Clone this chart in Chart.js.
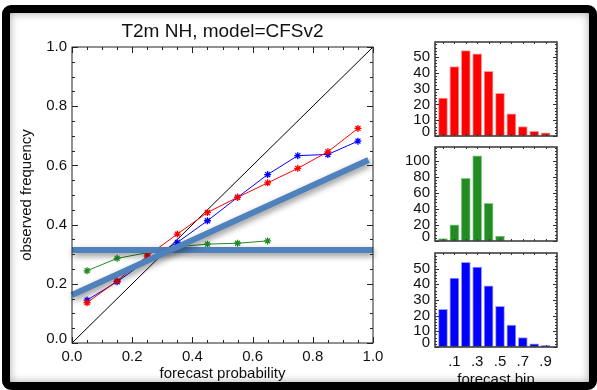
<!DOCTYPE html>
<html><head><meta charset="utf-8">
<script src="https://cdn.jsdelivr.net/npm/chart.js@4.4.0/dist/chart.umd.min.js"></script>
<style>
html,body{margin:0;padding:0;background:#fff;width:597px;height:390px;overflow:hidden;}
canvas{position:absolute;left:0;top:0;}
#frame{position:absolute;left:2px;top:5px;width:579px;height:369px;border:8px solid #000;border-radius:9px;box-shadow:inset 0 0 8px rgba(0,0,0,0.35);pointer-events:none;}
</style></head><body>
<canvas id="main" width="597" height="390"></canvas>
<canvas id="h1" width="597" height="390"></canvas>
<canvas id="h2" width="597" height="390"></canvas>
<canvas id="h3" width="597" height="390"></canvas>
<div id="frame"></div>
<script>
// ---- data ----
const probBins  = [0.05, 0.15, 0.25, 0.35, 0.45, 0.55, 0.65, 0.75, 0.85, 0.95];
const redObs    = [0.136, 0.210, 0.294, 0.368, 0.441, 0.492, 0.541, 0.590, 0.646, 0.725];
const blueObs   = [0.145, 0.207, 0.280, 0.340, 0.413, 0.492, 0.569, 0.633, 0.637, 0.682];
const greenBins = [0.05, 0.15, 0.25, 0.35, 0.45, 0.55, 0.65];
const greenObs  = [0.244, 0.286, 0.305, 0.325, 0.334, 0.337, 0.345];
const diagX = [0, 1];
const diagY = [0, 1];
const climX = [0, 1];
const climY = [0.314, 0.314];
const fitX  = [0, 0.985];
const fitY  = [0.162, 0.618];
const mainMajor = [0, 0.2, 0.4, 0.6, 0.8, 1.0];
const mainMinor = [0.05,0.1,0.15,0.25,0.3,0.35,0.45,0.5,0.55,0.65,0.7,0.75,0.85,0.9,0.95];

const histBins   = [0, 0.1, 0.2, 0.3, 0.4, 0.5, 0.6, 0.7, 0.8, 0.9];
const histRed    = [24, 44, 54, 52, 41, 27, 14, 6, 3, 2];
const histGreen  = [3, 20, 78, 106, 47, 6, 0, 0, 0, 0];
const histBlue   = [24, 44, 54, 51, 39, 26, 14, 6, 2, 1];
const histLabelTicks = [0.1, 0.3, 0.5, 0.7, 0.9];
const histTicksRed   = [0, 10, 20, 30, 40, 50];
const histTicksGreen = [0, 20, 40, 60, 80, 100];
const histTicksBlue  = [0, 10, 20, 30, 40, 50];
const histMaxRed = 59.5, histMaxGreen = 117, histMaxBlue = 60;

// ---- helpers ----
const FONT = "'Liberation Sans', Arial, Helvetica, sans-serif";
Chart.defaults.font.family = FONT;
Chart.defaults.color = '#111';
const pts = (xs, ys) => xs.map((x, i) => ({x: x, y: ys[i]}));

const frameTicks = {
  id: 'frameTicks',
  afterDatasetsDraw(chart, args, o) {
    if (!o || !o.on) return;
    const {ctx, chartArea: a, scales} = chart;
    const xs = scales.x, ys = scales.y;
    ctx.save();
    ctx.strokeStyle = o.color; ctx.lineWidth = 1;
    ctx.beginPath();
    const tx = (vals, len) => vals.forEach(v => {
      const p = Math.round(xs.getPixelForValue(v)) + 0.5;
      ctx.moveTo(p, a.bottom); ctx.lineTo(p, a.bottom - len);
      ctx.moveTo(p, a.top); ctx.lineTo(p, a.top + len);
    });
    const ty = (vals, len) => vals.forEach(v => {
      const p = Math.round(ys.getPixelForValue(v)) + 0.5;
      ctx.moveTo(a.left, p); ctx.lineTo(a.left + len, p);
      ctx.moveTo(a.right, p); ctx.lineTo(a.right - len, p);
    });
    tx(o.xMajor, o.majLen); tx(o.xMinor, o.minLen);
    ty(o.yMajor, o.majLen); ty(o.yMinor, o.minLen);
    ctx.stroke();
    ctx.lineWidth = o.width;
    ctx.strokeRect(a.left, a.top, a.right - a.left, a.bottom - a.top);
    ctx.restore();
  }
};
const shadowPlug = {
  id: 'shadowPlug',
  beforeDatasetDraw(chart, args) {
    const ds = chart.data.datasets[args.index];
    if (ds.shadow) {
      chart.ctx.save();
      chart.ctx.shadowColor = 'rgba(0,0,0,0.45)';
      chart.ctx.shadowBlur = 6;
      chart.ctx.shadowOffsetX = 1;
      chart.ctx.shadowOffsetY = 3;
    }
  },
  afterDatasetDraw(chart, args) {
    const ds = chart.data.datasets[args.index];
    if (ds.shadow) chart.ctx.restore();
  }
};
Chart.register(frameTicks, shadowPlug);

const setTicks = vals => (scale => { scale.ticks = vals.map(v => ({value: v})); });

// ---- main reliability chart ----
const line = (xs, ys, color, order, extra) => Object.assign({
  data: pts(xs, ys), borderColor: color, backgroundColor: color, borderWidth: 1,
  pointStyle: 'star', pointRadius: 3.5, pointBorderWidth: 1.3, pointBorderColor: color,
  tension: 0, order: order
}, extra || {});

new Chart(document.getElementById('main'), {
  type: 'line',
  data: {datasets: [
    line(fitX, fitY, '#4f81bd', 0, {borderWidth: 6, pointRadius: 0, clip: false, shadow: true, borderCapStyle: 'butt'}),
    line(climX, climY, '#4f81bd', 0, {borderWidth: 6, pointRadius: 0, clip: false, shadow: true, borderCapStyle: 'butt'}),
    line(probBins, redObs, '#ff0000', 2),
    line(probBins, blueObs, '#0000ff', 3),
    line(greenBins, greenObs, '#228b22', 4),
    line(diagX, diagY, '#000000', 5, {pointRadius: 0})
  ]},
  options: {
    responsive: false, animation: false, devicePixelRatio: 1,
    layout: {padding: {left: 18, right: 224, top: 0, bottom: 0}},
    plugins: {
      legend: {display: false}, tooltip: {enabled: false},
      title: {display: true, text: 'T2m NH, model=CFSv2', fullSize: false, color: '#111',
        font: {size: 19, weight: 'normal', lineHeight: 1.2}, padding: {top: 20, bottom: 4.2}},
      frameTicks: {on: true, color: '#222', width: 1, majLen: 6, minLen: 3,
        xMajor: mainMajor, xMinor: mainMinor, yMajor: mainMajor, yMinor: mainMinor}
    },
    scales: {
      x: {type: 'linear', min: 0, max: 1,
        grid: {display: false, drawTicks: false}, border: {display: false},
        afterBuildTicks: setTicks(mainMajor),
        afterFit: s => { s.height = 47; },
        ticks: {padding: 5, font: {size: 15}, color: '#111', callback: v => v.toFixed(1), maxRotation: 0, autoSkip: false},
        title: {display: true, text: 'forecast probability', color: '#111', font: {size: 15}, padding: {top: 0, bottom: 7}}
      },
      y: {type: 'linear', min: 0, max: 1,
        grid: {display: false, drawTicks: false}, border: {display: false},
        afterBuildTicks: setTicks(mainMajor),
        afterFit: s => { s.width = 54; },
        ticks: {padding: 5, font: {size: 15, lineHeight: 0.6}, color: '#111', autoSkip: false,
          callback: v => v === 0 ? ['0.0', ''] : v.toFixed(1)},
        title: {display: true, text: 'observed frequency', color: '#111', font: {size: 15}, padding: {top: 0, bottom: 0}}
      }
    }
  }
});

// ---- histograms ----
function hist(id, counts, color, border, yTicks, yMax, top, bottomPad, showX) {
  const step = yTicks[1] - yTicks[0];
  const minor = [];
  for (let v = step / 5; v < yMax; v += step / 5) minor.push(v);
  new Chart(document.getElementById(id), {
    type: 'bar',
    data: {datasets: [{data: pts(histBins, counts), backgroundColor: color, borderColor: border,
      borderWidth: 1, borderSkipped: false, barThickness: 9}]},
    options: {
      responsive: false, animation: false, devicePixelRatio: 1,
      layout: {padding: {left: 400, right: 40, top: top, bottom: bottomPad}},
      plugins: {legend: {display: false}, tooltip: {enabled: false},
        frameTicks: {on: true, color: '#333', width: 1.5, majLen: 4, minLen: 2,
          xMajor: [], xMinor: histBins, yMajor: yTicks, yMinor: minor}},
      scales: {
        x: {type: 'linear', min: -0.07, max: 1.0, offset: false, display: showX,
          grid: {display: false, drawTicks: false}, border: {display: false},
          afterBuildTicks: setTicks(histLabelTicks),
          afterFit: s => { s.height = showX ? 43 : 0; },
          ticks: {padding: 6, font: {size: 15}, color: '#111', autoSkip: false, maxRotation: 0,
            callback: v => '.' + Math.round(v * 10)},
          title: {display: true, text: 'forecast bin', color: '#111', font: {size: 15}, padding: {top: 0, bottom: 1}}
        },
        y: {type: 'linear', min: 0, max: yMax,
          grid: {display: false, drawTicks: false}, border: {display: false},
          afterBuildTicks: setTicks(yTicks),
          afterFit: s => { s.width = 35; },
          ticks: {padding: 5, font: {size: 15, lineHeight: 0.6}, color: '#111', autoSkip: false,
            callback: v => v === 0 ? ['0', ''] : String(v)}
        }
      }
    }
  });
}
hist('h1', histRed,   '#ff0000', '#ff9a9a', histTicksRed,   histMaxRed,   42, 254, false);
hist('h2', histGreen, '#228b22', '#8cc98c', histTicksGreen, histMaxGreen, 147, 149, false);
hist('h3', histBlue,  '#0000ff', '#9a9aff', histTicksBlue,  histMaxBlue,  253, 0, true);
</script>
</body></html>
